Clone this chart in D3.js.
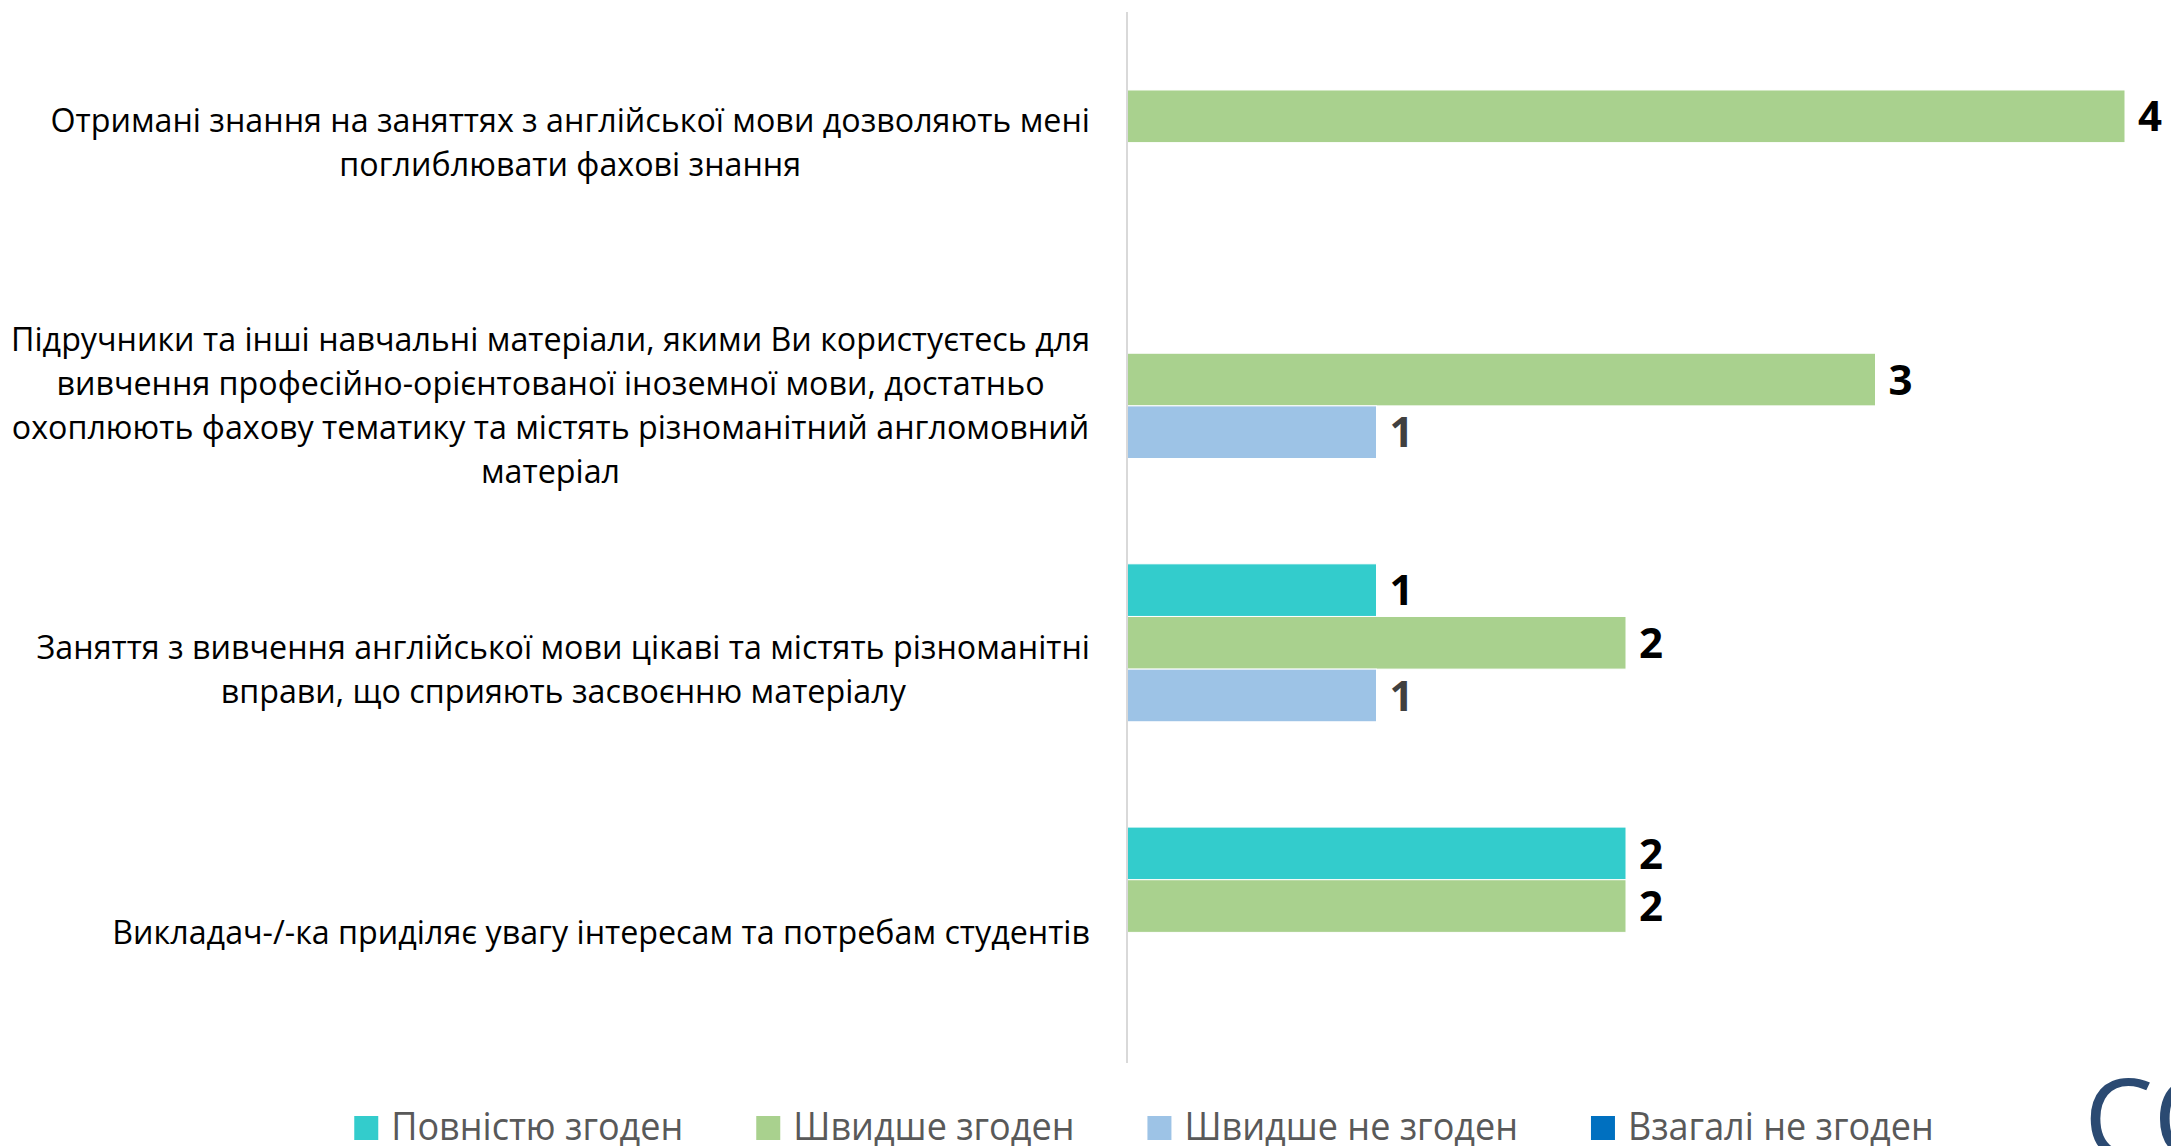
<!DOCTYPE html>
<meta charset="utf-8">

<script src="https://d3js.org/d3.v7.min.js"></script>

<style type="text/css">

body {
  margin: 0;
  background: #fff;
}

.catLabel text {
  font-family: "Open Sans", sans-serif;
  font-size: 33px;
  fill: #000;
}

.valueText {
  font-family: "Open Sans", sans-serif;
  font-size: 42px;
  font-weight: bold;
}

.legend text {
  font-family: "Open Sans", sans-serif;
  font-size: 38px;
  fill: #595959;
}

</style>

<body>
</body>

<script>

// categories, top to bottom (line breaks as in the original)
var categories = [
  "Отримані знання на заняттях з англійської мови дозволяють мені\nпоглиблювати фахові знання",
  "Підручники та інші навчальні матеріали, якими Ви користуєтесь для\nвивчення професійно-орієнтованої іноземної мови, достатньо\nохоплюють фахову тематику та містять різноманітний англомовний\nматеріал",
  "Заняття з вивчення англійської мови цікаві та містять різноманітні\nвправи, що сприяють засвоєнню матеріалу",
  "Викладач-/-ка приділяє увагу інтересам та потребам студентів"
];

var seriesNames = ["Повністю згоден", "Швидше згоден", "Швидше не згоден", "Взагалі не згоден"];
var seriesColors = ["#33CCCC", "#A9D18E", "#9DC3E6", "#0070C0"];
var labelColors = ["#000000", "#000000", "#404040", "#ffffff"];

var fullyAgree = [0, 0, 1, 2];
var ratherAgree = [4, 3, 2, 2];
var ratherDisagree = [0, 1, 1, 0];
var fullyDisagree = [0, 0, 0, 0];

var seriesValues = [fullyAgree, ratherAgree, ratherDisagree, fullyDisagree];

// build rows
var rows = [];
categories.forEach(function(c, i) {
  seriesNames.forEach(function(s, j) {
    rows.push({cat: c, series: s, idx: j, value: seriesValues[j][i]});
  });
});

var width = 2171,
    height = 1146;

var svg = d3.select("body").append("svg")
    .attr("width", width)
    .attr("height", height);

svg.append("rect")
  .attr("width", width)
  .attr("height", height)
  .attr("fill", "#fff");

// scales
var xScale = d3.scaleLinear()
  .domain([0, d3.max(rows, function(d) { return d.value; })])
  .range([1127, 2125]);

var yScale = d3.scaleBand()
  .domain(categories)
  .range([11, 1064])
  .paddingInner(0.2)
  .paddingOuter(0.1);

var ySeries = d3.scaleBand()
  .domain(seriesNames)
  .range([0, yScale.bandwidth()]);

// bars
var bars = svg.append("g").attr("class", "bars");

bars.selectAll("rect")
  .data(rows.filter(function(d) { return d.value > 0; }))
  .enter().append("rect")
  .attr("x", xScale(0))
  .attr("y", function(d) { return yScale(d.cat) + ySeries(d.series); })
  .attr("width", function(d) { return xScale(d.value) - xScale(0); })
  .attr("height", ySeries.bandwidth())
  .attr("fill", function(d) { return seriesColors[d.idx]; })
  .attr("stroke", "#fff")
  .attr("stroke-width", 1);

// axis line
svg.append("line")
  .attr("x1", xScale(0))
  .attr("x2", xScale(0))
  .attr("y1", 12)
  .attr("y2", 1063)
  .attr("stroke", "#D9D9D9")
  .attr("stroke-width", 2);

// value labels
bars.selectAll(".valueText")
  .data(rows.filter(function(d) { return d.value > 0; }))
  .enter().append("text")
  .attr("class", "valueText")
  .attr("x", function(d) { return xScale(d.value) + 13; })
  .attr("y", function(d) { return yScale(d.cat) + ySeries(d.series) + ySeries.bandwidth() / 2; })
  .attr("dy", "0.36em")
  .attr("fill", function(d) { return labelColors[d.idx]; })
  .text(function(d) { return d.value; });

// category labels, centered block right-aligned to the axis
var labelRight = 1090;
var lineHeight = 44;

var catGroups = svg.selectAll(".catLabel")
  .data(categories)
  .enter().append("g")
  .attr("class", "catLabel");

catGroups.each(function(c) {
  var g = d3.select(this);
  var lines = c.split("\n");
  var cy = yScale(c) + yScale.bandwidth() / 2;
  var t = g.append("text").attr("text-anchor", "middle");
  lines.forEach(function(l, i) {
    t.append("tspan")
      .attr("y", cy + (i - (lines.length - 1) / 2) * lineHeight)
      .attr("dy", "0.35em")
      .text(l);
  });
});

// squeeze glyphs so the widest line matches the original narrow font
var maxW = 0;
catGroups.selectAll("tspan").each(function() {
  maxW = Math.max(maxW, this.getComputedTextLength());
});
var squeeze = 1079 / maxW;

catGroups.each(function() {
  var g = d3.select(this);
  var blockW = 0;
  g.selectAll("tspan").each(function() {
    var w = this.getComputedTextLength() * squeeze;
    d3.select(this).attr("textLength", w).attr("lengthAdjust", "spacingAndGlyphs");
    blockW = Math.max(blockW, w);
  });
  g.selectAll("tspan").attr("x", labelRight - blockW / 2);
});

// legend
var legend = svg.append("g").attr("class", "legend");
var box = 24, boxGap = 13, itemGap = 73;

var items = legend.selectAll("g")
  .data(seriesNames)
  .enter().append("g");

items.append("rect")
  .attr("width", box)
  .attr("height", box)
  .attr("y", 1116)
  .attr("fill", function(d, i) { return seriesColors[i]; });

items.append("text")
  .attr("y", 1127)
  .attr("dy", "0.35em")
  .text(function(d) { return d; });

var legSqueeze = 292 / items.select("text").node().getComputedTextLength();
var xPos = 0;
items.each(function() {
  var g = d3.select(this);
  var txt = g.select("text");
  var w = txt.node().getComputedTextLength() * legSqueeze;
  txt.attr("textLength", w).attr("lengthAdjust", "spacingAndGlyphs");
  g.select("rect").attr("x", xPos);
  txt.attr("x", xPos + box + boxGap);
  xPos += box + boxGap + w + itemGap;
});
var legendW = xPos - itemGap;
legend.attr("transform", "translate(" + (1144 - legendW / 2) + ",0)");

// corner logo (cut off by the page edge)
svg.append("text")
  .attr("x", 2084)
  .attr("y", 1158)
  .attr("font-family", "Open Sans, sans-serif")
  .attr("font-size", 110)
  .attr("fill", "#2B4A72")
  .text("CO");

</script>
